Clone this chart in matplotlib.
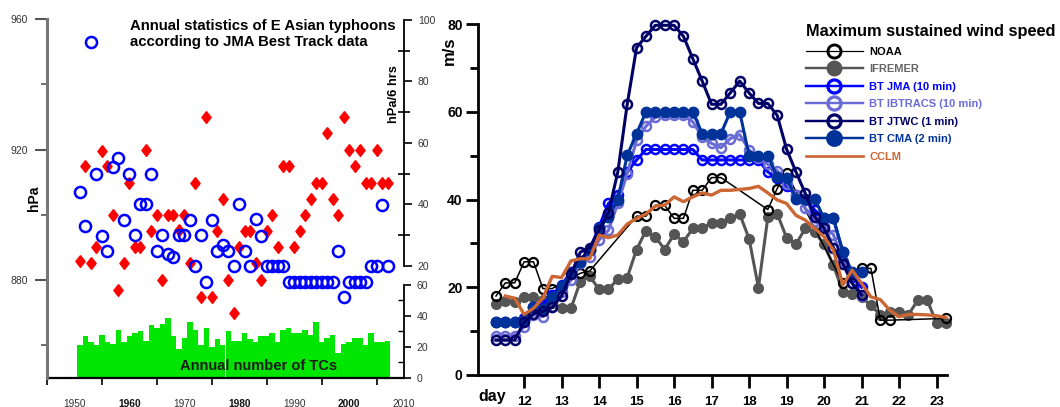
import matplotlib
matplotlib.use("Agg")
import matplotlib.pyplot as plt
import numpy as np
from matplotlib.lines import Line2D

plt.rcParams["font.family"] = ["Liberation Sans", "DejaVu Sans"]

# ---- left panel: JMA annual statistics 1951-2007 ----
years = np.arange(1951, 2008)
# lowest central pressure of the year [hPa]
min_pressure = [907, 896.6, 953, 912.6, 893.6, 889, 914.5, 917.3, 898.5, 912.6,
                893.7, 903.2, 903.2, 912.6, 889, 893.7, 887.9, 887.1, 893.7, 893.7,
                898.5, 884.3, 893.7, 879.5, 898.5, 889, 890.7, 889, 884.3, 903.2,
                889, 884.4, 898.7, 893.6, 884.4, 884.4, 884.4, 884.4, 879.5, 879.5,
                879.5, 879.5, 879.5, 879.5, 879.5, 879.5, 879.5, 889, 874.9, 879.5,
                879.5, 879.5, 879.5, 884.4, 884.4, 903.1, 884.4]
# maximum deepening rate [hPa/6 hrs]
max_deepening = [21.6, 52.5, 20.9, 26.3, 57.5, 52.5, 36.6, 12.2, 20.9, 47.1,
                 26.3, 26.3, 57.7, 31.4, 36.6, 15.4, 36.6, 36.6, 31.6, 36.6,
                 20.9, 47.1, 10, 68.4, 10, 31.4, 41.8, 15.4, 4.8, 26.3,
                 31.4, 31.4, 20.9, 15.4, 31.4, 36.6, 26.3, 52.5, 52.5, 26.3,
                 31.4, 36.6, 41.8, 47.1, 47.1, 63.2, 41.8, 36.6, 68.4, 57.7,
                 52.5, 57.7, 47.1, 47.1, 57.7, 47.1, 47.1]
# annual number of tropical cyclones
tc_count = [21, 27, 23, 21, 28, 23, 22, 31, 23, 27, 29, 30, 24, 34, 32, 35, 39, 27,
            19, 26, 36, 31, 21, 32, 20, 25, 21, 30, 24, 24, 29, 25, 23, 27, 27, 29,
            23, 31, 32, 29, 29, 31, 28, 36, 23, 26, 28, 16, 22, 23, 26, 26, 21, 29,
            23, 23, 24]
year_ticks = [1950, 1960, 1970, 1980, 1990, 2000, 2010]

# ---- right panel: maximum sustained wind speed, 6-hourly ----
days = np.linspace(11.25, 23.25, 49)
N = None
noaa = [18, 21, 21, 25.8, 25.8, 19.7, 19.7, N, N, 23.2, 23.7, N, N, N, N, 36.2, 36.2,
        38.7, 38.7, 35.7, 35.7, 42.1, 42.1, 45, 45, N, N, N, N, 37.7, 42.5, 46, N, N,
        N, N, N, 21, N, 24.3, 24.3, 12.5, 12.5, N, N, N, N, N, 12.9]
ifremer = [16.2, 16.8, 16.6, 17.8, 17.8, 17.0, 16.5, 15.2, 15.2, 21.3, 22.5, 19.5, 19.5,
           21.9, 22.2, 28.6, 32.9, 31.5, 28.6, 32.1, 30.4, 33.4, 33.4, 34.7, 34.7, 35.7,
           36.7, 31.1, 19.9, 35.9, 36.8, 31.3, 29.8, 33.4, 32.6, 29.8, 25, 19, 18.4, 17.7,
           15.9, 13.7, 14.4, 14.4, 13.7, 17.1, 17.1, 11.9, 11.9]
bt_jma = [12, 12, 12, 12.9, 15.6, 16, 18.3, 20.5, 23.5, 25.6, 28.5, 33.8, 39.1, 41, 46.3,
          49, 51.4, 51.4, 51.4, 51.4, 51.4, 51.4, 49, 49, 49, 49, 49, 49, 49, 46.3, 44.8,
          43, 41, 39.9, 37.6, 35.7, 35.7, 28.1, 22.4, 20]
bt_ibtracs = [9, 9, 9, 11, 13.7, 13.3, 15.6, 19, 21.6, 25.5, 27, 30.8, 33, 39.1, 45.9,
              53.5, 56.7, 58.8, 59.2, 59.2, 59.2, 57.7, 54.3, 52.8, 51.8, 53.9, 54.8,
              51.3, 49.5, 48, 46.6, 43.6, 41, 38, 35, 34, 32, 26, 21, 18]
bt_jtwc = [8, 8, 8, 12, 14, 14.5, 15.4, 18, 23, 28, 29, 33, 37, 46.3, 61.7, 74.6, 77.2,
           79.7, 79.7, 79.7, 77.2, 72.1, 67, 61.7, 61.7, 64.3, 67, 64.3, 61.9, 61.9,
           59.2, 51.5, 46.3, 41.4, 36.1, 33.4, 29, 25.4, 20.9, 18.2]
bt_cma = [12, 12, 12, 12.5, 15.6, 15, 17.8, 20.3, 23.2, 25.8, 28.5, 33.4, 36.1, 40, 50.1,
          55, 60, 60, 60, 60, 60, 60, 55, 55, 55, 60, 60, 50, 50, 50, 45.2, 45, 40.2,
          40.2, 40.2, 35.7, 35.7, 28.1, 23.5, 23.5]
cclm = [N, 18, 17.5, 13.8, 15.2, 17.5, 22.5, 22.2, 26, 26.5, 26.5, 31.9, 31.3, 31.9,
        34.4, 35.7, 36.7, 38.5, 38.7, 40.6, 39.5, 40.6, 41.5, 41, 42.1, 42.1, 42.3,
        42.5, 43, 41.5, 39.9, 39.1, 36.4, 35.3, 33.4, 31.5, 28.5, 20.5, 23.9, 20.9,
        17.8, 17.2, 14.8, 13.3, 13.8, 13.8, 13.7, 13.5, 13.1]
day_ticks = list(range(12, 24))

W, H = 1060, 407


def box(x0, y0, x1, y1):
    """pixel box (top-left origin) -> figure fraction rect"""
    return [x0 / W, 1 - y1 / H, (x1 - x0) / W, (y1 - y0) / H]


def valid(vals):
    v = np.array([np.nan if x is None else x for x in vals], dtype=float)
    v = np.concatenate([v, np.full(len(days) - len(v), np.nan)])
    m = ~np.isnan(v)
    return days[m], v[m]


fig = plt.figure(figsize=(10.6, 4.07), dpi=100)

# ================= left panel =================
axc = fig.add_axes(box(47, 19, 404, 378))
axr = axc.twinx()
axp = axc.twinx()
for a in (axc, axr, axp):
    for s in a.spines.values():
        s.set_visible(False)

axc.bar(years, tc_count, width=1.0, color="#00e600", linewidth=0)
axc.set_xlim(1945, 2010)
axc.set_ylim(0, 231.6)
axc.yaxis.tick_right()
axc.spines["bottom"].set_visible(True)
axc.spines["bottom"].set_linewidth(1.6)
axc.spines["right"].set_visible(True)
axc.spines["right"].set_bounds(0, 60)
axc.spines["right"].set_linewidth(1.3)
axc.set_yticks([0, 20, 40, 60])
axc.set_yticks([10, 30, 50], minor=True)
axc.tick_params(axis="y", which="major", direction="out", length=5, width=1.2,
                labelsize=7.5, labelcolor="#333333", pad=4)
axc.tick_params(axis="y", which="minor", direction="in", length=4, width=1.0)
axc.set_xticks(year_ticks)
axc.set_xticklabels([str(y) for y in year_ticks], fontsize=7.3, color="#333333")
for lab in axc.get_xticklabels():
    if lab.get_text() in ("1960", "1980", "2000"):
        lab.set_fontweight("bold")
        lab.set_color("#111111")
axc.set_xticks(np.arange(1945, 2010, 10), minor=True)
axc.tick_params(axis="x", which="major", length=0, pad=15)
axc.tick_params(axis="x", which="minor", direction="out", length=5, width=1.2)
axc.text(1983.5, 8, "Annual number of TCs", ha="center", va="center",
         fontsize=10.5, fontweight="bold", color="#1a1a1a")

diamond = [(0, 1), (0.78, 0), (0, -1), (-0.78, 0), (0, 1)]
axr.plot(years, max_deepening, ls="none", marker=diamond, ms=8.5,
         mfc="#ff0000", mec="#ff0000", clip_on=False)
axr.set_ylim(-16.4, 100.3)
axr.spines["right"].set_visible(True)
axr.spines["right"].set_bounds(20, 100)
axr.spines["right"].set_linewidth(1.3)
axr.set_yticks([20, 40, 60, 80, 100])
axr.set_yticks([30, 50, 70, 90], minor=True)
axr.tick_params(axis="y", which="major", direction="out", length=6, width=1.2,
                labelsize=7.5, labelcolor="#333333", pad=4)
axr.tick_params(axis="y", which="minor", direction="inout", length=9, width=1.2)

axp.plot(years, min_pressure, ls="none", marker="o", ms=8, mfc="none",
         mec="#0000ff", mew=1.8, clip_on=False)
axp.set_ylim(850, 960)
axp.yaxis.tick_left()
axp.spines["left"].set_visible(True)
axp.spines["left"].set_bounds(850, 960)
axp.spines["left"].set_linewidth(2.2)
axp.spines["left"].set_color("#777777")
axp.set_yticks([880, 920, 960])
axp.set_yticks([860, 900, 940], minor=True)
axp.tick_params(axis="y", which="major", direction="out", length=8.5, width=1.5,
                color="#555555", labelsize=7.5, labelcolor="#333333", pad=5)
axp.tick_params(axis="y", which="minor", direction="out", length=4, width=1.2,
                color="#555555")

fig.text(130 / W, 1 - 19 / H,
         "Annual statistics of E Asian typhoons\naccording to JMA Best Track data",
         ha="left", va="top", fontsize=10.7, fontweight="bold", linespacing=1.15)
fig.text(34 / W, 1 - 198 / H, "hPa", rotation=90, ha="center", va="center",
         fontsize=10, fontweight="bold")
fig.text(394 / W, 1 - 94 / H, "hPa/6 hrs", rotation=90, ha="center", va="center",
         fontsize=9.3, fontweight="bold")

# ================= right panel =================
axw = fig.add_axes(box(478, 24, 947, 375))
styles = {
    "NOAA": dict(data=noaa, color="#000000", lw=1.1, marker="o", mfc="none", ms=6.5,
                 mew=1.6, z=3, lc="#000000"),
    "IFREMER": dict(data=ifremer, color="#555555", lw=2.2, marker="o", mfc="#555555",
                    ms=7, mew=1, z=2, lc="#666666"),
    "BT JMA (10 min)": dict(data=bt_jma, color="#0000ff", lw=2.2, marker="o", mfc="none",
                            ms=6.5, mew=1.8, z=4, lc="#0000ff"),
    "BT IBTRACS (10 min)": dict(data=bt_ibtracs, color="#6b6bd6", lw=2.2, marker="o",
                                mfc="none", ms=6.5, mew=1.8, z=5, lc="#6b6bd6"),
    "BT JTWC (1 min)": dict(data=bt_jtwc, color="#000066", lw=2.2, marker="o", mfc="none",
                            ms=6.5, mew=1.8, z=7, lc="#000066"),
    "BT CMA (2 min)": dict(data=bt_cma, color="#003399", lw=2.2, marker="o",
                           mfc="#003399", ms=7.5, mew=1, z=6, lc="#003399"),
    "CCLM": dict(data=cclm, color="#cc6633", lw=2.4, marker=None, mfc="none", ms=0,
                 mew=0, z=8, lc="#cc6633"),
}
handles = []
for name, st in styles.items():
    x, y = valid(st["data"])
    axw.plot(x, y, color=st["color"], lw=st["lw"], marker=st["marker"], mfc=st["mfc"],
             mec=st["color"], ms=st["ms"], mew=st["mew"], zorder=st["z"], clip_on=False)
    handles.append(Line2D([], [], color=st["color"], lw=st["lw"] * 0.8,
                          marker=st["marker"], mfc=st["mfc"], mec=st["color"],
                          ms=st["ms"] * 1.45 if st["ms"] else 0, mew=st["mew"] * 1.3))

axw.set_xlim(10.77, 23.28)
axw.set_ylim(0, 80)
axw.spines["top"].set_visible(False)
axw.spines["right"].set_visible(False)
axw.spines["left"].set_linewidth(2)
axw.spines["bottom"].set_linewidth(2)
axw.set_yticks([0, 20, 40, 60, 80])
axw.set_yticklabels(["0", "20", "40", "60", "80"], fontweight="bold", fontsize=10)
axw.set_yticks([10, 30, 50, 70], minor=True)
axw.set_xticks(day_ticks)
axw.set_xticklabels([str(d) for d in day_ticks], fontweight="bold", fontsize=9.5)
axw.tick_params(axis="y", which="major", length=9, width=2, pad=2)
axw.tick_params(axis="y", which="minor", length=6, width=2)
axw.tick_params(axis="x", which="major", length=9, width=2, pad=6)

fig.text(449 / W, 1 - 51 / H, "m/s", rotation=90, ha="center", va="center",
         fontsize=12, fontweight="bold")
fig.text(492 / W, 1 - 397 / H, "day", ha="center", va="center",
         fontsize=11.5, fontweight="bold")

leg = fig.legend(handles, list(styles), loc="upper left",
                 bbox_to_anchor=(806 / W, 1 - 24 / H), frameon=False,
                 title="Maximum sustained wind speed", alignment="left",
                 prop={"weight": "bold", "size": 8}, handlelength=5.1,
                 handletextpad=0.6, labelspacing=0.68, borderpad=0,
                 borderaxespad=0)
leg.get_title().set_fontweight("bold")
leg.get_title().set_fontsize(11.8)
for txt, st in zip(leg.get_texts(), styles.values()):
    txt.set_color(st["lc"])

fig.savefig("out.png", dpi=100)
